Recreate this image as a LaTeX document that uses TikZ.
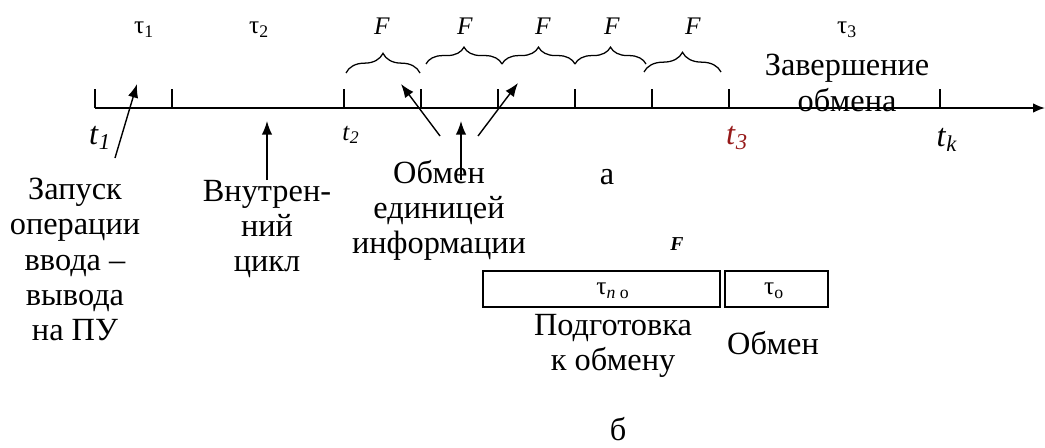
\documentclass[tikz,border=0pt]{standalone}
\usepackage{fontspec}
\setmainfont{Liberation Serif}
\usetikzlibrary{arrows.meta,decorations.pathreplacing}
\definecolor{dunkelrot}{RGB}{150,25,25}
\tikzset{
	txt/.style={font=\fontsize{23}{25}\selectfont, align=center, inner sep=0pt},
	klein/.style={font=\fontsize{18}{20}\selectfont, inner sep=0pt},
	pfeil/.style={line width=1pt, -{Latex[length=3.4mm,width=2.6mm]}},
	klammer/.style={decorate, decoration={brace, amplitude=#1}, line width=0.9pt}
}
\begin{document}
\begin{tikzpicture}[x=0.025cm, y=-0.025cm]
	\useasboundingbox (0,0) rectangle (1045,447);
	% Zeitachse mit Strichen
	\foreach \x [count=\i] in {95,172,344,421,498,575,652,729,940}
		\coordinate (m\i) at (\x,108);
	\coordinate (ende) at (1045,108);
	\draw[line width=1.2pt, -{Latex[length=3mm,width=2.4mm]}] (m1) -- (ende);
	\foreach \i in {1,...,9}
		\draw[line width=1.2pt] (m\i) -- ++(0,-19);
	% Zeitpunkte
	\node (t1) at (100,138) {\fontsize{23}{24}\selectfont\textit{t}\textsubscript{\textit{1}}};
	\node (t2) at (351,135) {\fontsize{18}{20}\selectfont\textit{t}\textsubscript{\textit{2}}};
	\node[text=dunkelrot] (t3) at (737,138) {\fontsize{23}{24}\selectfont\textit{t}\textsubscript{\textit{3}}};
	\node (tk) at (947,140) {\fontsize{23}{24}\selectfont\textit{t}\textsubscript{\textit{k}}};
	% Intervalle oben
	\node[klein] (tau1) at (144,30) {τ\textsubscript{1}};
	\node[klein] (tau2) at (259,30) {τ\textsubscript{2}};
	\node[klein] (tau3) at (847,30) {τ\textsubscript{3}};
	\node[txt] (zaversh) at (847,83) {Завершение\\обмена};
	% Klammern F
	\draw[klammer=14pt] (346,73) -- (420,73);
	\draw[klammer=12pt] (426,64) -- (502,64);
	\draw[klammer=12pt] (502,64) -- (575,64);
	\draw[klammer=12pt] (575,64) -- (646,64);
	\draw[klammer=14pt] (644,72) -- (721,72);
	\foreach \x [count=\i] in {382,465,543,612,693}
		\node[klein] (f\i) at (\x,26) {\textit{F}};
	% Beschriftungen unten
	\node[txt, anchor=north] (zapusk) at (75,178) {Запуск\\операции\\ввода --\\вывода\\на ПУ};
	\node[txt, anchor=north] (vnutr) at (267,180) {Внутрен-\\ний\\цикл};
	\node[txt, anchor=north] (obmen) at (439,160) {Обмен\\единицей\\информации};
	\node[txt] (a) at (607,177) {а};
	% Pfeile
	\coordinate (p1s) at (115,158);
	\coordinate (p1e) at (137,84);
	\coordinate (p2s) at (267,180);
	\coordinate (p2e) at (267,121);
	\coordinate (p3s) at (440,136);
	\coordinate (p3e) at (401,84);
	\coordinate (p4s) at (461,180);
	\coordinate (p4e) at (461,121);
	\coordinate (p5s) at (478,136);
	\coordinate (p5e) at (518,83);
	\foreach \i in {1,...,5}
		\draw[pfeil] (p\i s) -- (p\i e);
	% Aufbau von F
	\node[font=\fontsize{14}{15}\selectfont\bfseries\itshape] (fb) at (677,244) {F};
	\draw[line width=0.8pt] (483,271) rectangle (720,307);
	\draw[line width=0.8pt] (725,271) rectangle (828,307);
	\node[klein] (tpo) at (613,291) {τ\textsubscript{\textit{n} о}};
	\node[klein] (to) at (774,291) {τ\textsubscript{о}};
	\node[txt, anchor=north] (podg) at (613,314) {Подготовка\\к обмену};
	\node[txt] (obm) at (773,343) {Обмен};
	\node[txt, anchor=base] (b) at (618,440) {б};
\end{tikzpicture}
\end{document}
